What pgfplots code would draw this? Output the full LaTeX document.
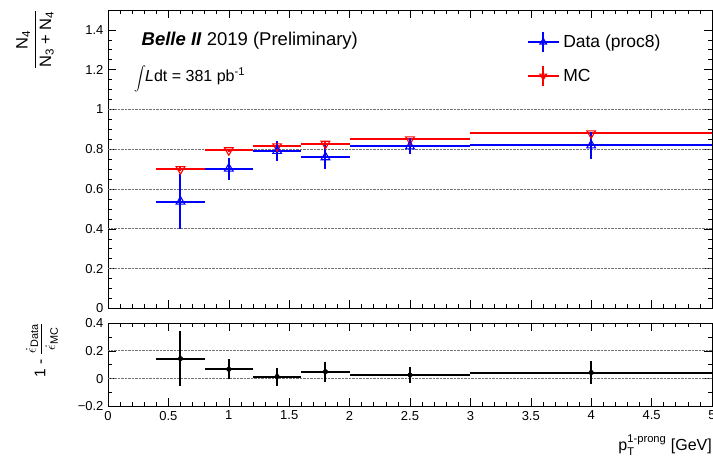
\documentclass[border=0pt]{standalone}
\usepackage{amsmath}
\usepackage{fontspec}
\setmainfont{Liberation Sans}
\usepackage{pgfplots}
\usepackage{pgfplotstable}
\pgfplotsset{compat=1.18}

\definecolor{rootblue}{RGB}{0,0,255}
\definecolor{rootred}{RGB}{255,0,0}

% bin centre, half width, value, error
\pgfplotstableread{
x   ex   data   edata  mc     emc
0.6 0.2  0.537  0.140  0.700  0.010
1.0 0.2  0.703  0.055  0.795  0.008
1.4 0.2  0.792  0.052  0.815  0.008
1.8 0.2  0.760  0.060  0.828  0.008
2.5 0.5  0.815  0.040  0.850  0.007
4.0 1.0  0.820  0.068  0.880  0.008
}\toptab

\pgfplotstableread{
x   ex   r      er
0.6 0.2  0.144  0.200
1.0 0.2  0.068  0.072
1.4 0.2  0.015  0.065
1.8 0.2  0.050  0.073
2.5 0.5  0.027  0.058
4.0 1.0  0.044  0.080
}\ratiotab

\pgfplotsset{
  rootstyle/.style={
    scale only axis,
    width=604pt,
    xmin=0, xmax=5,
    tick align=inside,
    tick pos=both,
    major tick length=8pt,
    minor tick length=4pt,
    tick style={black, line width=0.6pt},
    axis line style={line width=0.9pt},
    xtick={0,0.5,...,5},
    minor x tick num=4,
    /pgf/number format/assume math mode=true,
    tick label style={font=\fontsize{13}{15}\selectfont},
    yticklabel style={xshift=-1pt},
    xticklabel style={yshift=-1pt},
    grid style={densely dotted, black!55, line width=0.8pt},
    extra y tick labels={},
    extra y tick style={grid=major, major tick length=0pt},
  },
  binerr/.style={
    only marks,
    error bars/.cd,
      x dir=both, x explicit,
      y dir=both, y explicit,
      error mark=none,
      error bar style={line width=2pt, draw=#1, solid},
  },
  rootleg/.style={
    legend image code/.code={
      \draw[#1, line width=2pt] (0pt,0pt) -- (31pt,0pt);
      \draw[#1, line width=2pt] (15.5pt,-10pt) -- (15.5pt,10pt);
      \draw[mark size=3.8pt] plot coordinates {(15.5pt,0pt)};
    },
  },
}

\begin{document}
\begin{tikzpicture}
\useasboundingbox (0pt,0pt) rectangle (713pt,461pt);

\begin{axis}[
  rootstyle,
  at={(108pt,152.5pt)}, anchor=south west,
  height=298.5pt,
  ymin=0, ymax=1.5,
  ytick={0,0.2,...,1.4},
  yticklabels={0,0.2,0.4,0.6,0.8,1,1.2,1.4},
  minor y tick num=3,
  xticklabels={},
  extra y ticks={0.2,0.4,0.6,0.8,1},
  reverse legend,
  legend style={
    draw=none, fill=none, inner sep=0pt,
    at={(0.693,0.93)}, anchor=north west,
    font=\fontsize{17.5}{20}\selectfont,
    row sep=12pt,
    nodes={inner sep=3.5pt},
    cells={anchor=west},
  },
]
\addplot+[rootred, mark=triangle, mark size=5pt, rootleg=rootred,
  mark options={rotate=180, rootred, line width=1.1pt, fill=none}, binerr=rootred]
  table[x=x, y=mc, x error=ex, y error=emc] {\toptab};
\addlegendentry{MC}
\addplot+[rootblue, mark=triangle, mark size=5pt, rootleg=rootblue,
  mark options={rootblue, line width=1.1pt, fill=none}, binerr=rootblue]
  table[x=x, y=data, x error=ex, y error=edata] {\toptab};
\addlegendentry{Data (proc8)}
\end{axis}

\begin{axis}[
  rootstyle,
  at={(108pt,54.5pt)}, anchor=south west,
  height=83.5pt,
  ymin=-0.2, ymax=0.4,
  ytick={-0.2,0,0.2,0.4},
  yticklabels={−0.2,0,0.2,0.4},
  minor y tick num=1,
  xticklabels={0,0.5,1,1.5,2,2.5,3,3.5,4,4.5,5},
  extra y ticks={0,0.2},
]
\addplot+[black, mark=*, mark size=2.3pt,
  mark options={black, fill=black}, binerr=black]
  table[x=x, y=r, x error=ex, y error=er] {\ratiotab};
\end{axis}

% texts
\node[anchor=base west, inner sep=0pt, font=\fontsize{18.5}{21}\selectfont]
  at (141.5pt,415pt) {\textbf{\textit{Belle II}} 2019 (Preliminary)};
\node[anchor=base west, inner sep=0pt, font=\fontsize{16}{18}\selectfont]
  at (134pt,379pt) {{\fontsize{13}{13}\selectfont$\displaystyle\int$}\kern-1pt\textit{L}dt = 381 pb\textsuperscript{-1}};

% axis titles
\node[rotate=90, anchor=east, inner sep=0pt, font=\fontsize{16.5}{19}\selectfont]
  at (35pt,451pt) {$\dfrac{\text{N}_{\text{4}}}{\text{N}_{\text{3}}\text{ + N}_{\text{4}}}$};
\node[rotate=90, anchor=east, inner sep=0pt, font=\fontsize{15.5}{18}\selectfont]
  at (42pt,138pt) {1 - $\dfrac{\dot{\epsilon}_{\text{Data}}}{\dot{\epsilon}_{\text{MC}}}$};
\node[anchor=base east, inner sep=0pt, font=\fontsize{16}{18}\selectfont]
  at (712pt,10pt) {p$^{\text{1-prong}}_{\text{T}}$ [GeV]};
\end{tikzpicture}
\end{document}
